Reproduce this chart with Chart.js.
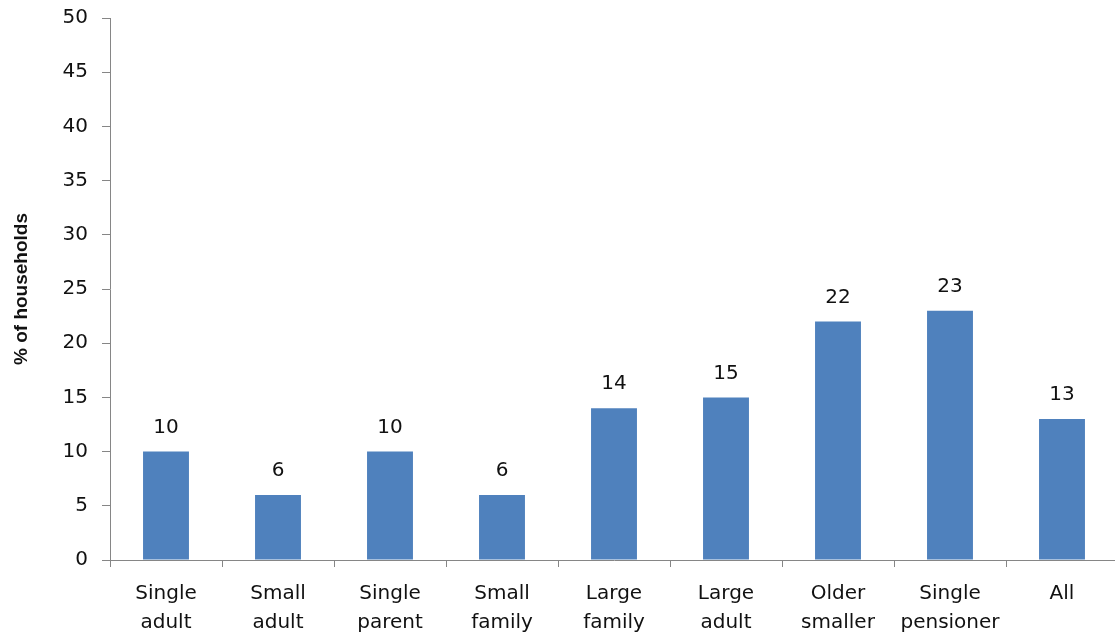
<!DOCTYPE html>
<html>
<head>
<meta charset="utf-8">
<script src="https://cdn.jsdelivr.net/npm/chart.js@4/dist/chart.umd.min.js"></script>
<style>
  html, body { margin: 0; padding: 0; background: #fff; overflow: hidden; }
  #wrap { position: relative; width: 1118px; height: 637px; }
</style>
</head>
<body>
<div id="wrap"><canvas id="c"></canvas></div>
<script>
// Household types (two-line labels) and share of households, %
const categories = [
  ['Single', 'adult'], ['Small', 'adult'], ['Single', 'parent'], ['Small', 'family'],
  ['Large', 'family'], ['Large', 'adult'], ['Older', 'smaller'], ['Single', 'pensioner'], 'All'
];
const shares = [10, 6, 10, 6, 14, 15, 22, 23, 13];
const yTicks = [0, 5, 10, 15, 20, 25, 30, 35, 40, 45, 50];

const AXIS = '#868686';
const TEXT = '#111111';
const FONT = '"DejaVu Sans", Verdana, sans-serif';

// Value above each bar, taken from the bar's own data point
const valueLabels = {
  id: 'valueLabels',
  afterDatasetsDraw(chart) {
    const ctx = chart.ctx;
    const meta = chart.getDatasetMeta(0);
    ctx.save();
    ctx.font = '20px ' + FONT;
    ctx.fillStyle = TEXT;
    ctx.textAlign = 'center';
    ctx.textBaseline = 'middle';
    meta.data.forEach((bar, i) => {
      ctx.fillText(String(chart.data.datasets[0].data[i]), bar.x, bar.y - 24);
    });
    ctx.restore();
  }
};

new Chart(document.getElementById('c'), {
  type: 'bar',
  data: {
    labels: categories,
    datasets: [{
      data: shares,
      backgroundColor: '#4F81BD',
      borderWidth: 0,
      barPercentage: 0.41,
      categoryPercentage: 1.0
    }]
  },
  options: {
    responsive: true,
    maintainAspectRatio: false,
    animation: false,
    layout: { padding: { top: 18, right: 0, left: 0, bottom: 0 } },
    plugins: { legend: { display: false }, tooltip: { enabled: false } },
    scales: {
      x: {
        offset: true,
        grid: { offset: true, drawOnChartArea: false, drawTicks: true, tickLength: 7, color: AXIS },
        border: { color: AXIS, width: 1 },
        ticks: {
          color: TEXT, font: { family: FONT, size: 20, lineHeight: 1.45 },
          maxRotation: 0, autoSkip: false, padding: 12
        },
        afterFit(scale) { scale.height = 77; }
      },
      y: {
        min: 0, max: 50,
        afterBuildTicks(scale) { scale.ticks = yTicks.map(v => ({ value: v })); },
        grid: { drawOnChartArea: false, drawTicks: true, tickLength: 8, color: AXIS },
        border: { color: AXIS, width: 1 },
        ticks: { color: TEXT, font: { family: FONT, size: 20 }, padding: 14 },
        title: {
          display: true, text: '% of households', color: TEXT,
          font: { family: '"Liberation Sans", Arial, sans-serif', size: 19, weight: 'bold' },
          padding: { top: 10, bottom: 0 }
        },
        afterFit(scale) {
          scale.width = 110;
          scale.paddingTop = 0;
          scale.paddingBottom = 0;
        }
      }
    }
  },
  plugins: [valueLabels]
});
</script>
</body>
</html>
